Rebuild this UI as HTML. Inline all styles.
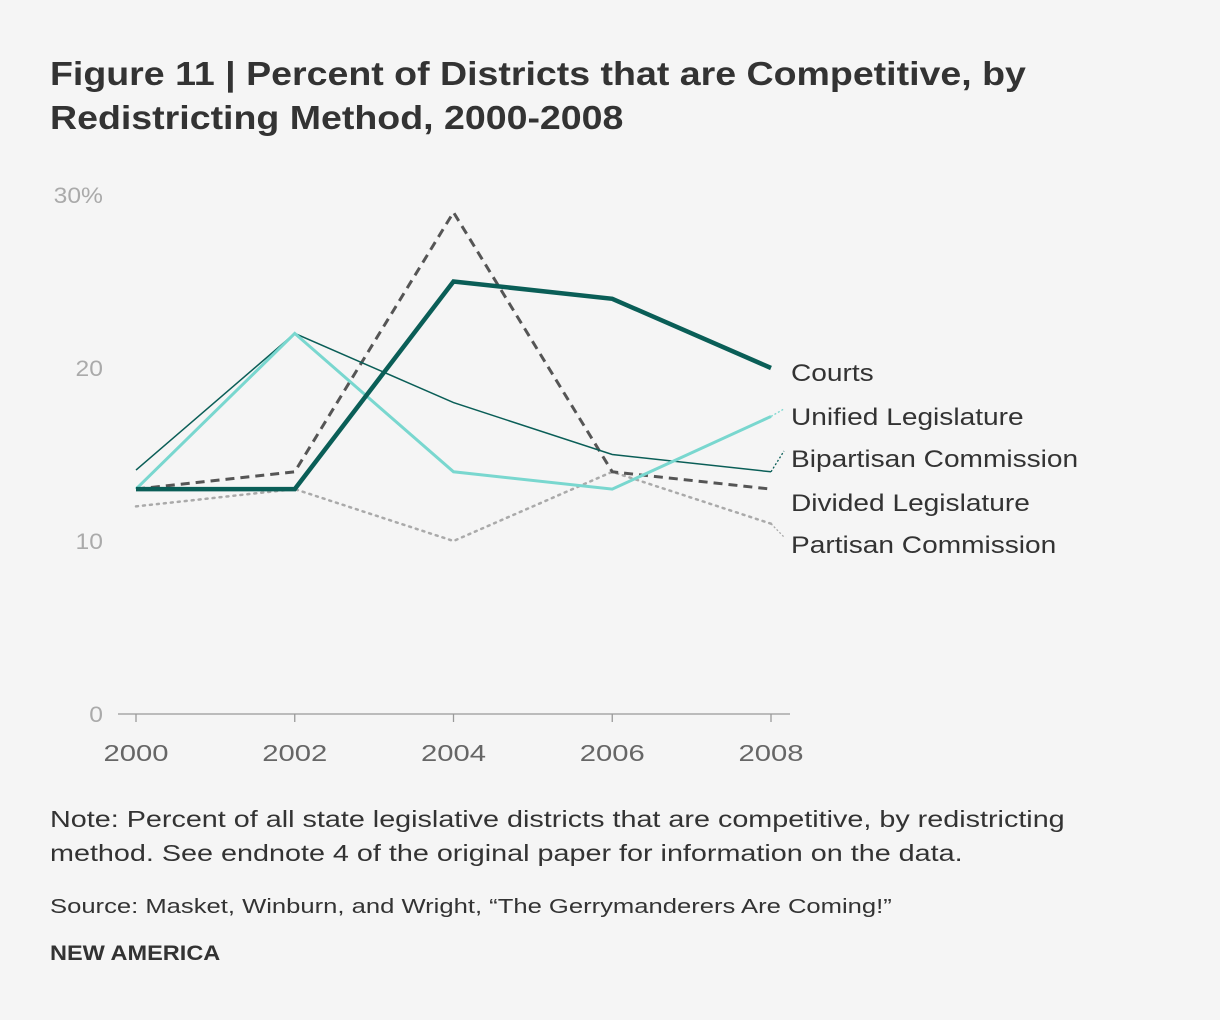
<!DOCTYPE html>
<html><head><meta charset="utf-8"><style>
body{margin:0;background:#f5f5f5;width:1220px;height:1020px;overflow:hidden;font-family:"Liberation Sans",sans-serif;color:#333}
.title{position:absolute;left:50px;top:52px;font-size:33px;font-weight:bold;line-height:44px;color:#333;transform:scaleX(1.137);transform-origin:0 0;white-space:nowrap}
.note{position:absolute;left:50px;top:802px;font-size:23px;line-height:34px;color:#333;transform:scaleX(1.25);transform-origin:0 0;white-space:nowrap}
.src{position:absolute;left:50px;top:896px;font-size:20px;color:#333;transform:scaleX(1.28);transform-origin:0 0;white-space:nowrap}
.brand{position:absolute;left:50px;top:942px;font-size:21px;font-weight:bold;color:#333;transform:scaleX(1.12);transform-origin:0 0;white-space:nowrap}
svg{position:absolute;left:0;top:0}
</style></head><body>
<div class="title">Figure 11 | Percent of Districts that are Competitive, by<br>Redistricting Method, 2000-2008</div>
<svg id="chart" width="1220" height="1020"></svg>
<div class="note">Note: Percent of all state legislative districts that are competitive, by redistricting<br>method. See endnote 4 of the original paper for information on the data.</div>
<div class="src">Source: Masket, Winburn, and Wright, “The Gerrymanderers Are Coming!”</div>
<div class="brand">NEW AMERICA</div>
<script>
const years=[2000,2002,2004,2006,2008];
const yTicks=[0,10,20,30];
const yTickLabels=["0","10","20","30%"];
const courts=[13,13,25,24,20];
const unified=[13,22,14,13,17.2];
const bipartisan=[14.1,22,18,15,14];
const divided=[13,14,29,14,13];
const partisan=[12,13,10,14,11];
const seriesNames=["Courts","Unified Legislature","Bipartisan Commission","Divided Legislature","Partisan Commission"];

const NS="http://www.w3.org/2000/svg";
const svg=document.getElementById('chart');
const x=v=>136+(v-2000)/8*635;
const y=v=>714-v*17.3;
function mk(tag,attrs,parent){const e=document.createElementNS(NS,tag);for(const k in attrs)e.setAttribute(k,attrs[k]);(parent||svg).appendChild(e);return e;}
function widen(t,f){const w=t.getComputedTextLength();t.setAttribute('textLength',w*f);t.setAttribute('lengthAdjust','spacingAndGlyphs');}

yTicks.forEach((t,i)=>{
  const tx=mk('text',{x:103,y:y(t)+8,'text-anchor':'end','font-size':22,fill:'#aaa'});
  tx.textContent=yTickLabels[i];
  
  
  widen(tx,1.12);
});
const ax=mk('line',{x1:118,x2:790,y1:714,y2:714,stroke:'#999','stroke-width':1.3});


years.forEach(yr=>{
  const tk=mk('line',{x1:x(yr),x2:x(yr),y1:714,y2:722,stroke:'#999','stroke-width':1.3});
  
  
  const tl=mk('text',{x:x(yr),y:761,'text-anchor':'middle','font-size':23,fill:'#666'});
  tl.textContent=yr;
  
  
  widen(tl,1.27);
});

const styles=[
 {d:partisan,c:'#aaa',w:2.5,dash:'2 5',cap:'round',ly:545,name:seriesNames[4]},
 {d:divided,c:'#555',w:3,dash:'9 6',cap:'butt',ly:503,name:seriesNames[3]},
 {d:bipartisan,c:'#0a5e57',w:1.5,dash:'',cap:'butt',ly:459,name:seriesNames[2]},
 {d:unified,c:'#79d7cf',w:3,dash:'',cap:'butt',ly:417,name:seriesNames[1]},
 {d:courts,c:'#0a5e57',w:4.5,dash:'',cap:'butt',ly:373,name:seriesNames[0]}
];
styles.forEach(s=>{
  const pts=s.d.map((v,i)=>x(years[i])+','+y(v)).join(' ');
  const pl=mk('polyline',{points:pts,fill:'none',stroke:s.c,'stroke-width':s.w,'stroke-dasharray':s.dash,'stroke-linecap':s.cap,'stroke-linejoin':'miter'});
  
  
  const ey=y(s.d[4]);
  if(Math.abs(ey-(s.ly-8))>6){
    const ld=mk('line',{x1:x(2008),y1:ey,x2:784,y2:s.ly-8,stroke:s.c,'stroke-width':1.3,'stroke-dasharray':'2 2'});
    
    
  }
  const t=mk('text',{x:791,y:s.ly+8,'font-size':24,fill:'#333'});
  t.textContent=s.name;
  
  
  widen(t,1.17);
});
</script>
</body></html>
